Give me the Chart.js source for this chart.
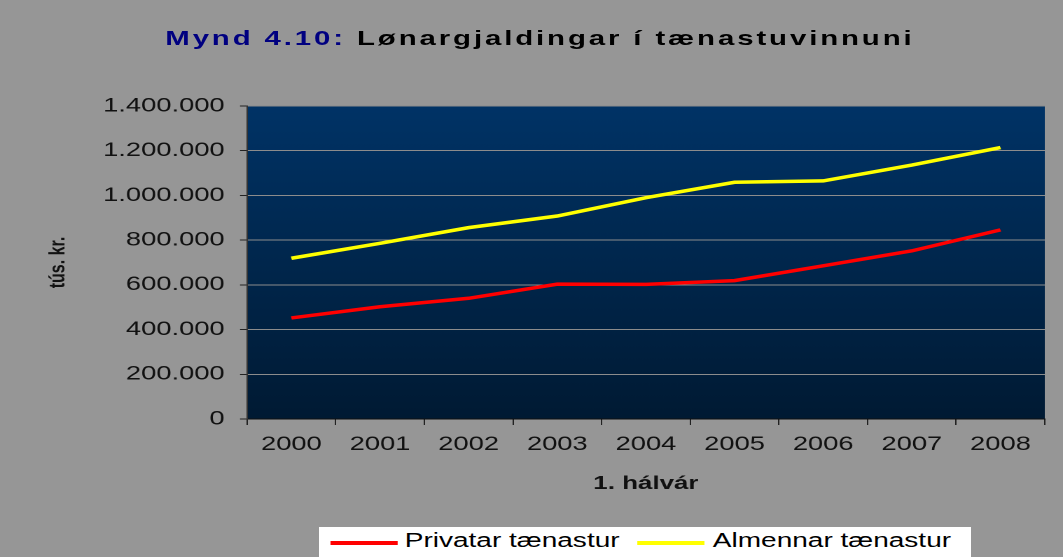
<!DOCTYPE html>
<html>
<head>
<meta charset="utf-8">
<script src="https://cdn.jsdelivr.net/npm/chart.js@4"></script>
<style>
    body { margin: 0; background: #969696; overflow: hidden; }
    /* the original picture is stretched sideways, so draw narrow and stretch */
    #wrap { position: relative; width: 759px; height: 557px; transform: scaleX(1.4005); transform-origin: 0 0; overflow: hidden; }
    #lineChart { position: absolute; left: 0; top: 0; }
    #title { position: absolute; left: 118px; top: 27px; font: bold 21px Arial, "Liberation Sans", sans-serif; line-height: 21px; letter-spacing: 2.05px; white-space: nowrap; color: #000; }
    #title .num { color: #000080; }
    #legend { position: absolute; left: 228px; top: 527px; width: 465px; height: 40px; background: #fff; font: 20px Arial, "Liberation Sans", sans-serif; line-height: 20px; color: #000; }
    #legend .ln { position: absolute; top: 14px; width: 48px; height: 3.5px; }
    #legend .tx { position: absolute; top: 3px; white-space: nowrap; }
</style>
</head>
<body>
<div id="wrap">
    <canvas id="lineChart" width="759" height="557"></canvas>
    <div id="title"><span class="num">Mynd 4.10:</span> Lønargjaldingar í tænastuvinnuni</div>
    <div id="legend">
        <div class="ln" style="left:8px;background:#ff0000"></div>
        <div class="tx" style="left:61px">Privatar tænastur</div>
        <div class="ln" style="left:227px;background:#ffff00"></div>
        <div class="tx" style="left:281px">Almennar tænastur</div>
    </div>
</div>
<script>
var years = ['2000', '2001', '2002', '2003', '2004', '2005', '2006', '2007', '2008'];
var privatar = [452000, 502000, 540000, 603000, 602000, 619000, 685000, 752000, 846000];
var almennar = [719000, 786000, 856000, 908000, 990000, 1059000, 1065000, 1136000, 1214000];
var yMax = 1400000;
var yStep = 200000;

Chart.defaults.font.family = 'Arial, "Liberation Sans", sans-serif';
Chart.defaults.color = '#111';

// dark blue gradient behind the plot
var plotBg = {
    id: 'plotBg',
    beforeDraw: function (chart) {
        var a = chart.chartArea;
        var c = chart.ctx;
        var g = c.createLinearGradient(0, a.top, 0, a.bottom);
        g.addColorStop(0, '#003366');
        g.addColorStop(1, '#001a33');
        c.save();
        c.fillStyle = g;
        c.fillRect(a.left, a.top, a.right - a.left, a.bottom - a.top);
        c.restore();
    }
};

function dots(v) {
    return String(v).replace(/\B(?=(\d{3})+(?!\d))/g, '.');
}

var ctx = document.getElementById('lineChart').getContext('2d');
var lineChart = new Chart(ctx, {
    type: 'line',
    data: {
        labels: years,
        datasets: [
            {
                label: 'Privatar tænastur',
                data: privatar,
                borderColor: '#ff0000',
                borderWidth: 3.5,
                pointRadius: 0,
                tension: 0
            }, {
                label: 'Almennar tænastur',
                data: almennar,
                borderColor: '#ffff00',
                borderWidth: 3.5,
                pointRadius: 0,
                tension: 0
            }
        ]
    },
    options: {
        responsive: false,
        animation: false,
        devicePixelRatio: 2,
        layout: { padding: { top: 106, right: 13, bottom: 0, left: 0 } },
        plugins: {
            legend: { display: false },
            tooltip: { enabled: false }
        },
        scales: {
            x: {
                offset: true,
                grid: { offset: true, drawOnChartArea: false, tickLength: 6, tickColor: '#222' },
                border: { color: '#111', width: 1 },
                ticks: { font: { size: 19.5 }, color: '#111', padding: 8 },
                title: { display: true, text: '1. hálvár', font: { size: 18.5, weight: 'bold' }, color: '#111', padding: { top: 0, bottom: 62 } },
                afterFit: function (scale) { scale.height = 138; }
            },
            y: {
                min: 0,
                max: yMax,
                grid: { color: '#8c8c8c', lineWidth: 1, tickLength: 5, tickColor: '#222' },
                border: { color: '#333', width: 1 },
                ticks: {
                    stepSize: yStep,
                    font: { size: 19.5 },
                    color: '#111',
                    padding: 11,
                    callback: function (value) { return dots(value); }
                },
                title: { display: true, text: 'tús. kr.', font: { size: 16, weight: 'bold' }, color: '#111', padding: { top: 32, bottom: 0 } },
                afterFit: function (scale) { scale.width = 176.4; }
            }
        }
    },
    plugins: [plotBg]
});
</script>
</body>
</html>
